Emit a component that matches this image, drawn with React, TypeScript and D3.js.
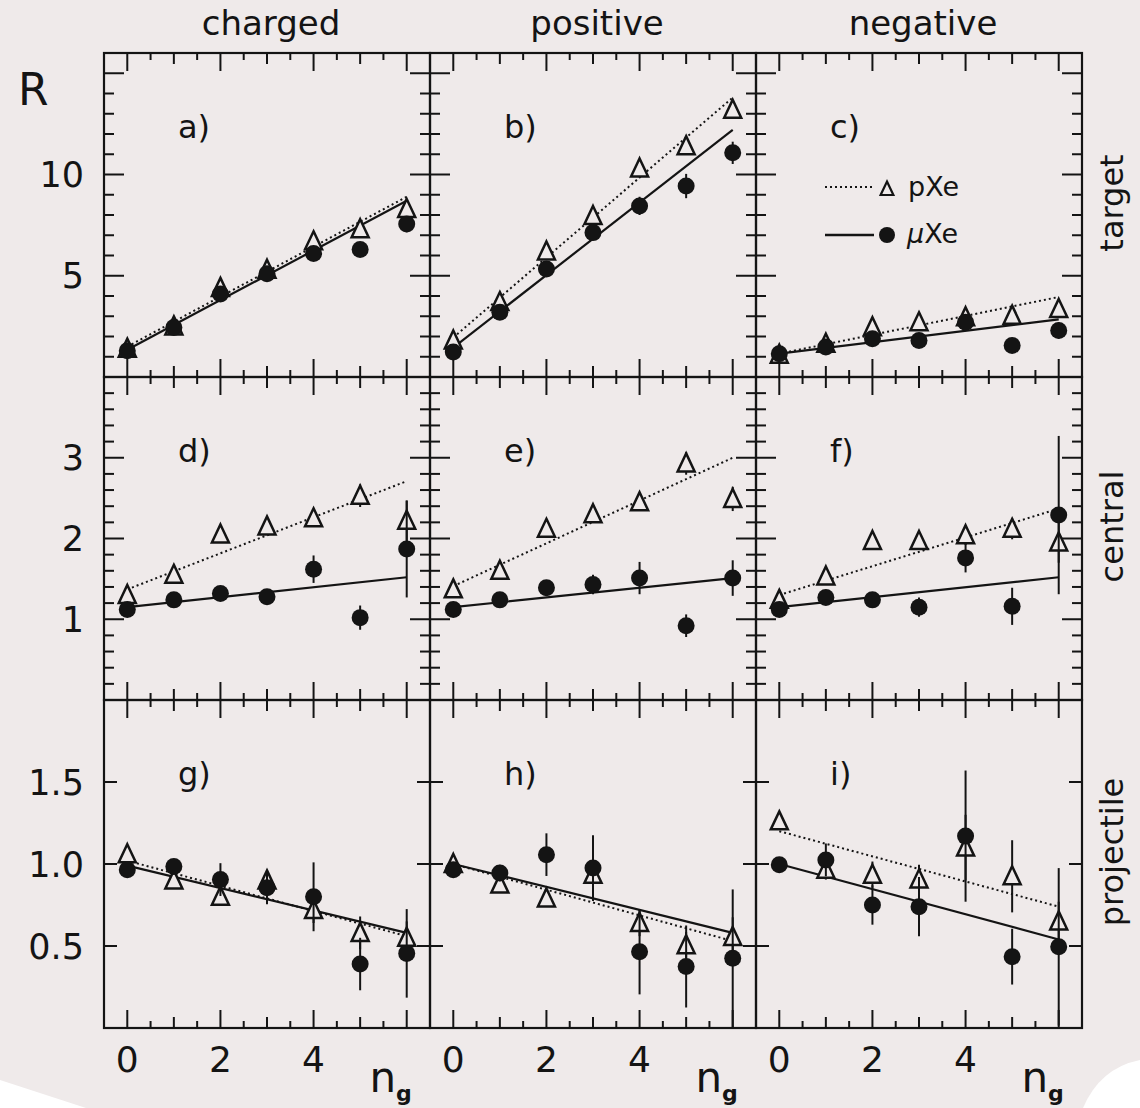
import React from "react";
import * as d3 from "d3";

// ---------- data ----------
const ng = [0, 1, 2, 3, 4, 5, 6];
const fitEnds = [0, 6];
const columnTitles = ["charged", "positive", "negative"];
const rowTitles = ["target", "central", "projectile"];
const panelLetters = ["a)", "b)", "c)", "d)", "e)", "f)", "g)", "h)", "i)"];
const xTickLabels = [0, 2, 4];

const rowDomains = [[0, 16], [0, 4], [0, 2]];
const rowMajorTicks = [[5, 10, 15], [1, 2, 3], [0.5, 1.0, 1.5]];
const rowTickLabels = [["5", "10", ""], ["1", "2", "3"], ["0.5", "1.0", "1.5"]];
const rowMinorStep = [1, 0.2, 0];

// panel a (charged, target)
const pXeA = [1.4, 2.5, 4.4, 5.3, 6.7, 7.3, 8.3];
const pXeErrA = [0.1, 0.15, 0.2, 0.2, 0.25, 0.3, 0.35];
const muXeA = [1.3, 2.45, 4.1, 5.1, 6.1, 6.3, 7.55];
const muXeErrA = [0.1, 0.15, 0.2, 0.25, 0.3, 0.35, 0.4];
const fitPA = [1.5, 8.9];
const fitMA = [1.35, 8.7];
// panel b (positive, target)
const pXeB = [1.8, 3.7, 6.2, 7.95, 10.3, 11.4, 13.2];
const pXeErrB = [0.15, 0.2, 0.25, 0.3, 0.3, 0.35, 0.4];
const muXeB = [1.23, 3.2, 5.33, 7.13, 8.45, 9.43, 11.07];
const muXeErrB = [0.2, 0.3, 0.3, 0.35, 0.45, 0.6, 0.55];
const fitPB = [1.95, 13.8];
const fitMB = [1.45, 12.2];
// panel c (negative, target)
const pXeC = [1.1, 1.64, 2.46, 2.7, 2.95, 3.03, 3.36];
const pXeErrC = [0.1, 0.1, 0.15, 0.15, 0.2, 0.25, 0.3];
const muXeC = [1.15, 1.48, 1.89, 1.8, 2.7, 1.56, 2.3];
const muXeErrC = [0.1, 0.1, 0.15, 0.15, 0.2, 0.25, 0.4];
const fitPC = [1.15, 3.95];
const fitMC = [1.15, 2.85];
// panel d (charged, central)
const pXeD = [1.3, 1.55, 2.05, 2.15, 2.25, 2.53, 2.22];
const pXeErrD = [0.05, 0.06, 0.06, 0.06, 0.1, 0.14, 0.25];
const muXeD = [1.12, 1.24, 1.32, 1.28, 1.62, 1.02, 1.87];
const muXeErrD = [0.05, 0.05, 0.06, 0.08, 0.17, 0.15, 0.6];
const fitPD = [1.37, 2.71];
const fitMD = [1.15, 1.52];
// panel e (positive, central)
const pXeE = [1.37, 1.6, 2.12, 2.3, 2.45, 2.93, 2.49];
const pXeErrE = [0.05, 0.06, 0.07, 0.08, 0.1, 0.14, 0.15];
const muXeE = [1.12, 1.24, 1.39, 1.43, 1.51, 0.92, 1.51];
const muXeErrE = [0.04, 0.05, 0.06, 0.12, 0.2, 0.14, 0.22];
const fitPE = [1.41, 3.0];
const fitME = [1.15, 1.51];
// panel f (negative, central)
const pXeF = [1.24, 1.53, 1.97, 1.97, 2.04, 2.12, 1.95];
const pXeErrF = [0.05, 0.06, 0.06, 0.08, 0.12, 0.13, 0.25];
const muXeF = [1.12, 1.27, 1.24, 1.15, 1.76, 1.16, 2.29];
const muXeErrF = [0.05, 0.05, 0.06, 0.12, 0.18, 0.23, 0.98];
const fitPF = [1.3, 2.37];
const fitMF = [1.15, 1.52];
// panel g (charged, projectile)
const pXeG = [1.06, 0.9, 0.8, 0.9, 0.72, 0.58, 0.55];
const pXeErrG = [0.03, 0.03, 0.04, 0.06, 0.08, 0.1, 0.1];
const muXeG = [0.965, 0.985, 0.905, 0.855, 0.8, 0.39, 0.455];
const muXeErrG = [0.03, 0.04, 0.1, 0.1, 0.21, 0.16, 0.27];
const fitPG = [1.02, 0.56];
const fitMG = [0.99, 0.58];
// panel h (positive, projectile)
const pXeH = [1.0, 0.875, 0.79, 0.935, 0.64, 0.505, 0.555];
const pXeErrH = [0.03, 0.04, 0.04, 0.06, 0.08, 0.08, 0.12];
const muXeH = [0.965, 0.945, 1.057, 0.975, 0.465, 0.375, 0.425];
const muXeErrH = [0.03, 0.05, 0.13, 0.2, 0.26, 0.25, 0.42];
const fitPH = [1.0, 0.53];
const fitMH = [1.0, 0.58];
// panel i (negative, projectile)
const pXeI = [1.26, 0.965, 0.935, 0.905, 1.1, 0.925, 0.65];
const pXeErrI = [0.05, 0.06, 0.08, 0.09, 0.2, 0.22, 0.12];
const muXeI = [0.995, 1.025, 0.75, 0.74, 1.17, 0.435, 0.495];
const muXeErrI = [0.03, 0.1, 0.12, 0.18, 0.4, 0.17, 0.48];
const fitPI = [1.2, 0.74];
const fitMI = [1.0, 0.54];

const panels = [
  { p: pXeA, pe: pXeErrA, m: muXeA, me: muXeErrA, fp: fitPA, fm: fitMA },
  { p: pXeB, pe: pXeErrB, m: muXeB, me: muXeErrB, fp: fitPB, fm: fitMB },
  { p: pXeC, pe: pXeErrC, m: muXeC, me: muXeErrC, fp: fitPC, fm: fitMC },
  { p: pXeD, pe: pXeErrD, m: muXeD, me: muXeErrD, fp: fitPD, fm: fitMD },
  { p: pXeE, pe: pXeErrE, m: muXeE, me: muXeErrE, fp: fitPE, fm: fitME },
  { p: pXeF, pe: pXeErrF, m: muXeF, me: muXeErrF, fp: fitPF, fm: fitMF },
  { p: pXeG, pe: pXeErrG, m: muXeG, me: muXeErrG, fp: fitPG, fm: fitMG },
  { p: pXeH, pe: pXeErrH, m: muXeH, me: muXeErrH, fp: fitPH, fm: fitMH },
  { p: pXeI, pe: pXeErrI, m: muXeI, me: muXeErrI, fp: fitPI, fm: fitMI },
];

// ---------- layout ----------
const W = 1140;
const H = 1108;
const colX = [104, 430, 756, 1082];
const rowY = [53, 377, 700, 1028];
const INK = "#141414";
const BG = "#efeaea";
const FONT = "'DejaVu Sans', sans-serif";

const triPath = (cx: number, cy: number, s = 1) =>
  `M${cx},${cy - 10 * s}L${cx + 8.5 * s},${cy + 8 * s}L${cx - 8.5 * s},${cy + 8 * s}Z`;

function Panel({ r, c }: { r: number; c: number }) {
  const d = panels[r * 3 + c];
  const left = colX[c];
  const right = colX[c + 1];
  const top = rowY[r];
  const bottom = rowY[r + 1];
  const x = d3.scaleLinear().domain([-0.5, 6.5]).range([left, right]);
  const y = d3.scaleLinear().domain(rowDomains[r]).range([bottom, top]);
  const line = d3
    .line<number>()
    .x((_, i) => x(fitEnds[i]))
    .y((v) => y(v));

  const majors = rowMajorTicks[r];
  const step = rowMinorStep[r];
  const minors =
    step > 0
      ? d3
          .range(1, Math.round(rowDomains[r][1] / step))
          .map((k) => +(k * step).toFixed(3))
          .filter((v) => !majors.some((m) => Math.abs(m - v) < 1e-6))
      : [];
  const majLen = r === 2 ? 13 : 20;
  const minLen = 10;

  const xt = d3.range(0, 13).map((k) => k * 0.5);
  const xLen = (v: number) => (v % 2 === 0 ? 18 : v % 1 === 0 ? 11 : 7);

  const ticks: JSX.Element[] = [];
  majors.forEach((v, i) => {
    ticks.push(<line key={`ml${i}`} x1={left} x2={left + majLen} y1={y(v)} y2={y(v)} />);
    ticks.push(<line key={`mr${i}`} x1={right} x2={right - majLen} y1={y(v)} y2={y(v)} />);
  });
  minors.forEach((v, i) => {
    ticks.push(<line key={`nl${i}`} x1={left} x2={left + minLen} y1={y(v)} y2={y(v)} />);
    ticks.push(<line key={`nr${i}`} x1={right} x2={right - minLen} y1={y(v)} y2={y(v)} />);
  });
  xt.forEach((v, i) => {
    ticks.push(<line key={`xb${i}`} x1={x(v)} x2={x(v)} y1={bottom} y2={bottom - xLen(v)} />);
    ticks.push(<line key={`xt${i}`} x1={x(v)} x2={x(v)} y1={top} y2={top + xLen(v)} />);
  });
  const lo = rowDomains[r][0];

  return (
    <g>
      <rect x={left} y={top} width={right - left} height={bottom - top} fill="none" stroke={INK} strokeWidth={2.2} />
      <g stroke={INK} strokeWidth={2}>{ticks}</g>
      <text x={left + 74} y={top + 85} fontSize={32} fill={INK} fontFamily={FONT}>
        {panelLetters[r * 3 + c]}
      </text>
      <path d={line(d.fp) || ""} fill="none" stroke={INK} strokeWidth={2} strokeDasharray="2 3" />
      <path d={line(d.fm) || ""} fill="none" stroke={INK} strokeWidth={2.2} />
      <g stroke={INK} strokeWidth={2}>
        {ng.map((n, i) => (
          <line key={`pe${i}`} x1={x(n)} x2={x(n)} y1={y(Math.max(lo, d.p[i] - d.pe[i]))} y2={y(d.p[i] + d.pe[i])} />
        ))}
      </g>
      {ng.map((n, i) => (
        <path key={`pt${i}`} d={triPath(x(n), y(d.p[i]))} fill={BG} stroke={INK} strokeWidth={2.5} strokeLinejoin="miter" />
      ))}
      <g stroke={INK} strokeWidth={2}>
        {ng.map((n, i) => (
          <line key={`me${i}`} x1={x(n)} x2={x(n)} y1={y(Math.max(lo, d.m[i] - d.me[i]))} y2={y(d.m[i] + d.me[i])} />
        ))}
      </g>
      {ng.map((n, i) => (
        <circle key={`mc${i}`} cx={x(n)} cy={y(d.m[i])} r={8.5} fill={INK} />
      ))}
    </g>
  );
}

export default function App() {
  const rows = [0, 1, 2];
  const cols = [0, 1, 2];
  return (
    <svg
      width={W}
      height={H}
      viewBox={`0 0 ${W} ${H}`}
      style={{ position: "absolute", left: 0, top: 0, display: "block" }}
      fontFamily={FONT}
    >
      <rect x={0} y={0} width={W} height={H} fill={BG} />
      <path d="M0,1080 L86,1108 L0,1108 Z" fill="#ffffff" />
      <path d="M1083,1108 Q1100,1068 1140,1060 L1140,1108 Z" fill="#ffffff" />

      {rows.map((r) => cols.map((c) => <Panel key={`${r}-${c}`} r={r} c={c} />))}

      {/* column titles */}
      {columnTitles.map((t, c) => (
        <text key={t} x={(colX[c] + colX[c + 1]) / 2 + 4} y={35} fontSize={34} textAnchor="middle" fill={INK}>
          {t}
        </text>
      ))}

      {/* row titles */}
      {rowTitles.map((t, r) => (
        <text
          key={t}
          transform={`translate(1123,${(rowY[r] + rowY[r + 1]) / 2 - 12}) rotate(-90)`}
          fontSize={32}
          textAnchor="middle"
          fill={INK}
        >
          {t}
        </text>
      ))}

      {/* y tick labels */}
      {rows.map((r) => {
        const y = d3.scaleLinear().domain(rowDomains[r]).range([rowY[r + 1], rowY[r]]);
        return rowMajorTicks[r].map((v, i) => (
          <text key={`yl${r}-${i}`} x={84} y={y(v)} dy="0.36em" fontSize={35} textAnchor="end" fill={INK}>
            {rowTickLabels[r][i]}
          </text>
        ));
      })}

      <text x={18} y={105} fontSize={44} fill={INK}>
        R
      </text>

      {/* x tick labels and axis titles */}
      {cols.map((c) => {
        const x = d3.scaleLinear().domain([-0.5, 6.5]).range([colX[c], colX[c + 1]]);
        return (
          <g key={`xl${c}`}>
            {xTickLabels.map((v) => (
              <text key={v} x={x(v)} y={1072} fontSize={36} textAnchor="middle" fill={INK}>
                {v}
              </text>
            ))}
            <text x={x(5.2)} y={1092} fontSize={42} fill={INK}>
              n
              <tspan dy={9} fontSize={22} fontWeight="bold">
                g
              </tspan>
            </text>
          </g>
        );
      })}

      {/* legend in panel c */}
      <g>
        <line x1={825} x2={872} y1={187} y2={187} stroke={INK} strokeWidth={2} strokeDasharray="2 3" />
        <path d={triPath(887, 189, 0.75)} fill="none" stroke={INK} strokeWidth={2.2} />
        <text x={908} y={196} fontSize={27} fill={INK}>
          pXe
        </text>
        <line x1={825} x2={874} y1={235} y2={235} stroke={INK} strokeWidth={2.4} />
        <circle cx={887} cy={235} r={8} fill={INK} />
        <text x={907} y={243} fontSize={27} fill={INK}>
          <tspan fontStyle="italic">μ</tspan>Xe
        </text>
      </g>
    </svg>
  );
}
